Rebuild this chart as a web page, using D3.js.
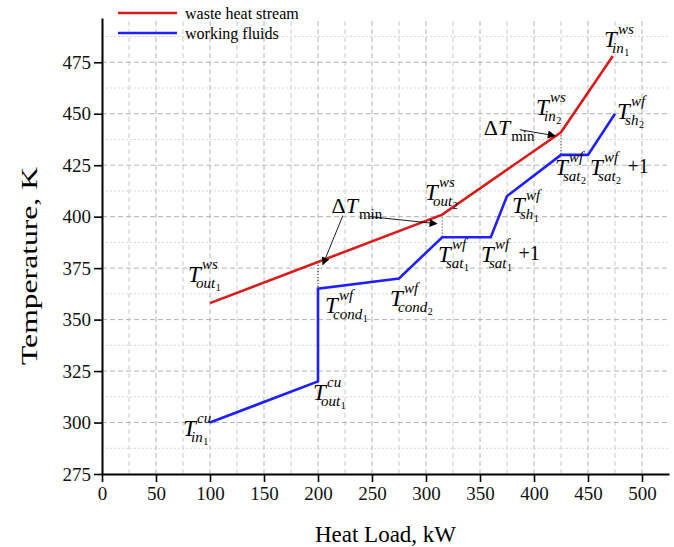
<!DOCTYPE html>
<html lang="en">
<head>
<meta charset="UTF-8">
<title>Temperature - Heat Load diagram</title>
<script src="https://cdn.jsdelivr.net/npm/d3@7/dist/d3.min.js"></script>
<style>
    body { margin: 0; background: #fff; }
    text { font-family: "Liberation Serif", "Times New Roman", serif; }
</style>
</head>
<body>
<div id="chart"></div>
<script>
    // Data (Heat Load kW, Temperature K)
    var wasteLoad = [100, 315, 425, 473];
    var wasteTemp = [358, 401, 441, 478];
    var fluidLoad = [100, 200, 200, 275, 315, 360, 375, 425, 450, 475];
    var fluidTemp = [300, 320, 365, 370, 390, 390, 410, 430, 430, 450];
    var xTicks = [0, 50, 100, 150, 200, 250, 300, 350, 400, 450, 500];
    var yTicks = [275, 300, 325, 350, 375, 400, 425, 450, 475];
    var seriesNames = ["waste heat stream", "working fluids"];
    // pinch points: load, waste temp, fluid temp
    var pinchLoad = [200, 315, 425];
    var pinchHot = [378, 401, 441];
    var pinchCold = [365, 390, 430];

    var w = 674, h = 547;
    var red = "#d81c1c", blue = "#2020ff";

    var svg = d3.select("#chart").append("svg")
        .attr("width", w).attr("height", h);

    var x = d3.scaleLinear().domain([0, 525]).range([102, 669]);
    var y = d3.scaleLinear().domain([275, 496.5]).range([474, 18]);

    // grid (every 25 kW, every 12.5 K)
    var gx = d3.range(25, 525, 25);
    var gy = d3.range(287.5, 496, 12.5);
    svg.append("g").selectAll("line").data(gx).enter().append("line")
        .attr("x1", function(d) { return x(d); })
        .attr("x2", function(d) { return x(d); })
        .attr("y1", y(275)).attr("y2", y(496.5))
        .attr("stroke", function(d) { return d % 50 == 0 ? "#b4b4b4" : "#cccccc"; })
        .attr("stroke-width", 1)
        .attr("stroke-dasharray", "5,3");
    svg.append("g").selectAll("line").data(gy).enter().append("line")
        .attr("x1", x(0)).attr("x2", x(525))
        .attr("y1", function(d) { return y(d); })
        .attr("y2", function(d) { return y(d); })
        .attr("stroke", function(d) { return d % 25 == 0 ? "#b4b4b4" : "#d6d6d6"; })
        .attr("stroke-width", 1)
        .attr("stroke-dasharray", function(d) { return d % 25 == 0 ? "5,3" : "2,2"; });

    // axes
    var xMinor = d3.range(25, 525, 50);
    var yMinor = d3.range(287.5, 496, 25);

    var xAxis = svg.append("g").attr("transform", "translate(0," + y(275) + ")");
    xAxis.call(d3.axisBottom(x).tickValues(xMinor).tickSize(4).tickSizeOuter(0).tickFormat(""));
    xAxis.call(d3.axisBottom(x).tickValues(xTicks).tickSize(8).tickSizeOuter(0).tickPadding(5));
    var yAxis = svg.append("g").attr("transform", "translate(" + x(0) + ",0)");
    yAxis.call(d3.axisLeft(y).tickValues(yMinor).tickSize(4).tickSizeOuter(0).tickFormat(""));
    yAxis.call(d3.axisLeft(y).tickValues(yTicks).tickSize(8).tickSizeOuter(0).tickPadding(3));

    svg.selectAll(".domain").attr("stroke", "#000").attr("stroke-width", 2);
    svg.selectAll(".tick line").attr("stroke", "#000").attr("stroke-width", 1.6);
    svg.selectAll(".tick text")
        .attr("font-family", "Liberation Serif")
        .attr("font-size", 19)
        .attr("fill", "#111");

    // axis titles
    svg.append("text")
        .attr("x", x(262.5)).attr("y", 542)
        .attr("text-anchor", "middle")
        .attr("font-size", 23)
        .text("Heat Load, kW");
    svg.append("text")
        .attr("transform", "translate(37,266) rotate(-90)")
        .attr("text-anchor", "middle")
        .attr("font-size", 23)
        .attr("textLength", 198)
        .attr("lengthAdjust", "spacingAndGlyphs")
        .text("Temperature, K");

    // pinch dotted lines
    svg.append("g").selectAll("line").data(pinchLoad).enter().append("line")
        .attr("x1", function(d) { return x(d); })
        .attr("x2", function(d) { return x(d); })
        .attr("y1", function(d, i) { return y(pinchHot[i]); })
        .attr("y2", function(d, i) { return y(pinchCold[i]); })
        .attr("stroke", "#222").attr("stroke-width", 1)
        .attr("stroke-dasharray", "1,2");

    // curves
    var line = d3.line()
        .x(function(d) { return x(d[0]); })
        .y(function(d) { return y(d[1]); });
    svg.append("path")
        .datum(d3.zip(wasteLoad, wasteTemp))
        .attr("d", line).attr("fill", "none")
        .attr("stroke", red).attr("stroke-width", 2.6);
    svg.append("path")
        .datum(d3.zip(fluidLoad, fluidTemp))
        .attr("d", line).attr("fill", "none")
        .attr("stroke", blue).attr("stroke-width", 2.6);

    // legend
    var legend = svg.append("g");
    [red, blue].forEach(function(c, i) {
        legend.append("line")
            .attr("x1", 118).attr("x2", 177)
            .attr("y1", 13 + i * 20).attr("y2", 13 + i * 20)
            .attr("stroke", c).attr("stroke-width", 2.4);
        legend.append("text")
            .attr("x", 185).attr("y", 19 + i * 20)
            .attr("font-size", 16)
            .text(seriesNames[i]);
    });

    // arrows for delta T min
    svg.append("defs").append("marker")
        .attr("id", "head")
        .attr("viewBox", "0 0 10 10")
        .attr("refX", 9).attr("refY", 5)
        .attr("markerWidth", 14).attr("markerHeight", 8)
        .attr("markerUnits", "userSpaceOnUse")
        .attr("orient", "auto")
        .append("path").attr("d", "M0,0 L10,5 L0,10 z").attr("fill", "#000");

    // [from load, from temp, to load, to temp]
    var arrows = [
        [223, 400.5, 204.5, 376.7],
        [248, 400, 310, 396.6],
        [387, 442.2, 419.5, 439.3]
    ];
    svg.append("g").selectAll("line").data(arrows).enter().append("line")
        .attr("x1", function(d) { return x(d[0]); })
        .attr("y1", function(d) { return y(d[1]); })
        .attr("x2", function(d) { return x(d[2]); })
        .attr("y2", function(d) { return y(d[3]); })
        .attr("stroke", "#000").attr("stroke-width", 0.9)
        .attr("marker-end", "url(#head)");

    function deltaLabel(lx, ly) {
        var px = x(lx), py = y(ly);
        var t = svg.append("text").attr("x", px).attr("y", py).attr("font-size", 22);
        t.append("tspan").text("\u0394");
        t.append("tspan").attr("font-style", "italic").text("T");
        t.append("tspan").attr("font-size", 15).attr("dx", 1).attr("dy", 6).text("min");
    }
    deltaLabel(212.5, 401.7);
    deltaLabel(353.5, 439.7);

    // symbol labels: load, temp, superscript, subscript, index, extra
    var symbols = [
        [464.8, 482.3, "ws", "in", "1", ""],
        [401.9, 449.3, "ws", "in", "2", ""],
        [476.9, 447.3, "wf", "sh", "2", ""],
        [419.4, 420.1, "wf", "sat", "2", ""],
        [451.9, 420.1, "wf", "sat", "2", "+1"],
        [299.1, 408.0, "ws", "out", "2", ""],
        [379.6, 401.7, "wf", "sh", "1", ""],
        [311.1, 377.9, "wf", "sat", "1", ""],
        [350.9, 377.9, "wf", "sat", "1", "+1"],
        [79.6, 368.2, "ws", "out", "1", ""],
        [266.7, 356.6, "wf", "cond", "2", ""],
        [206.5, 353.2, "wf", "cond", "1", ""],
        [195.4, 310.9, "cu", "out", "1", ""],
        [75.0, 293.4, "cu", "in", "1", ""]
    ];

    symbols.forEach(function(s) {
        var px = x(s[0]), py = y(s[1]);
        var t = svg.append("text").attr("x", px).attr("y", py).attr("font-style", "italic");
        t.append("tspan").attr("font-size", 23).text("T");
        t.append("tspan").attr("x", px + 14).attr("y", py - 13)
            .attr("font-size", 15).text(s[2]);
        var sub = t.append("tspan").attr("x", px + 8).attr("y", py + 6)
            .attr("font-size", 15).text(s[3]);
        t.append("tspan").attr("dx", 0.5).attr("y", py + 9)
            .attr("font-size", 10).attr("font-style", "normal").text(s[4]);
        if (s[5]) {
            var sw = sub.node().getComputedTextLength();
            var endX = Math.max(px + 14 + 16, px + 8 + sw + 6);
            t.append("tspan").attr("x", endX + 6).attr("y", py - 2)
                .attr("font-size", 20).attr("font-style", "normal").text(s[5]);
        }
    });
</script>
</body>
</html>
